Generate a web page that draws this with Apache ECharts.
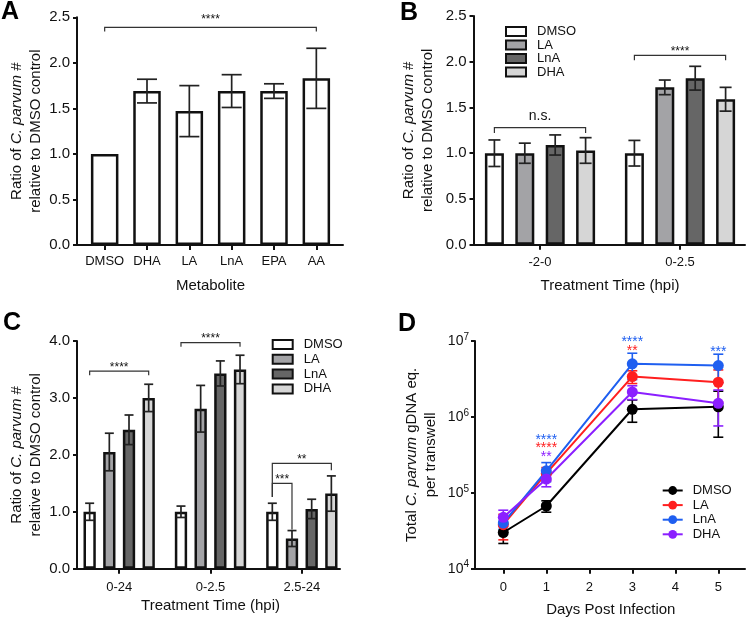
<!DOCTYPE html>
<html><head><meta charset="utf-8">
<script src="https://cdn.jsdelivr.net/npm/echarts/dist/echarts.min.js"></script>
<style>html,body{margin:0;padding:0;background:#fff}#c{width:750px;height:619px}</style>
</head><body><div id="c"></div>
<script>
// ---------- DATA ----------
const catsA = ['DMSO', 'DHA', 'LA', 'LnA', 'EPA', 'AA'];
const meanA = [1.0, 1.69, 1.47, 1.69, 1.69, 1.83];
const sdA   = [0, 0.13, 0.28, 0.18, 0.08, 0.33];
const bracketsA = [[0, 0, 5, 0, 2.39, 2.345, 2.345, '****']];

const groupNames = ['DMSO', 'LA', 'LnA', 'DHA'];

const catsB = ['-2-0', '0-2.5'];
const meanB = [[1.0, 1.0], [1.0, 1.72], [1.09, 1.82], [1.03, 1.59]];
const sdB   = [[0.145, 0.14], [0.11, 0.08], [0.11, 0.13], [0.14, 0.13]];
const bracketsB = [[0, 0, 0, 3, 1.28, 1.22, 1.22, 'n.s.'], [1, 0, 1, 3, 2.07, 2.015, 2.015, '****']];

const catsC = ['0-24', '0-2.5', '2.5-24'];
const meanC = [[1.0, 1.0, 1.0], [2.05, 2.81, 0.53], [2.44, 3.43, 1.05], [3.0, 3.5, 1.32]];
const sdC   = [[0.15, 0.10, 0.15], [0.33, 0.41, 0.14], [0.26, 0.22, 0.17], [0.24, 0.25, 0.31]];
const bracketsC = [
  [0, 0, 0, 3, 3.47, 3.40, 3.40, '****'],
  [1, 0, 1, 3, 3.97, 3.90, 3.90, '****'],
  [2, 0, 2, 3, 1.85, 1.26, 1.73, '**'],
  [2, 0, 2, 1, 1.50, 1.26, 0.69, '***']
];

const daysD = [0, 1, 3, 5];
const meanD = [
  [3.0e4, 6.7e4, 1.26e6, 1.36e6],
  [3.8e4, 1.8e5, 3.4e6, 2.86e6],
  [4.0e4, 1.95e5, 5.0e6, 4.75e6],
  [4.75e4, 1.52e5, 2.13e6, 1.51e6]
];
const sdD = [
  [0.85e4, 1.15e4, 0.41e6, 0.82e6],
  [1.4e4, 0.35e5, 0.65e6, 1.3e6],
  [0.7e4, 0.55e5, 1.9e6, 1.95e6],
  [1.15e4, 0.32e5, 0.44e6, 0.75e6]
];
// [day, value at star centre, text, series index]
const starsD = [
  [1, 5.5e5, '****', 2], [1, 4.26e5, '****', 1], [1, 3.25e5, '**', 3],
  [3, 1.09e7, '****', 2], [3, 8.26e6, '**', 1],
  [5, 8.0e6, '***', 2]
];

// ---------- STYLE ----------
const FONT = '"Liberation Sans", Arial, Helvetica, sans-serif';
const TXT = '#111';
const barFills = ['#ffffff', '#a3a3a6', '#666666', '#d6d6d6'];
const lineColors = ['#000000', '#ff1f1f', '#1f5ff0', '#8b1fff'];

function barOffset(i, n, w, gap) {
  const total = n * w + (n - 1) * gap * w;
  return -total / 2 + i * w * (1 + gap) + w / 2;
}

const chart = echarts.init(document.getElementById('c'), null, {renderer: 'canvas'});

const grids = [
  {left: 77, top: 17.3, width: 266, height: 227.7},     // 0 frame A
  {left: 83.5, top: 17.3, width: 254, height: 227.7},   // 1 data A
  {left: 473.5, top: 16, width: 271.5, height: 228.7},  // 2 frame B
  {left: 470, top: 16, width: 285, height: 228.7},      // 3 data B
  {left: 77, top: 341, width: 263, height: 227.7},      // 4 frame C
  {left: 73.5, top: 341, width: 274, height: 227.7},    // 5 data C
  {left: 475, top: 341, width: 270, height: 227.7},     // 6 frame D
  {left: 503.3, top: 341, width: 215, height: 227.7}    // 7 data D
];

const axLine = {show: true, onZero: false, lineStyle: {color: TXT, width: 2}};
const tick = {show: true, length: 4, lineStyle: {color: TXT, width: 2}};
const xlab = {color: TXT, fontFamily: FONT, fontSize: 13};
const ylab = {color: TXT, fontFamily: FONT, fontSize: 15};
const yName1 = '{n|Ratio of }{i|C. parvum}{n| #}\n{n|relative to DMSO control}';
const nameStyle = {
  fontFamily: FONT, fontSize: 15, color: TXT, lineHeight: 19,
  rich: {n: {fontFamily: FONT, fontSize: 15, color: TXT, lineHeight: 19},
         i: {fontFamily: FONT, fontSize: 15, color: TXT, fontStyle: 'italic', lineHeight: 19}}
};
const xNameStyle = {fontFamily: FONT, fontSize: 15, color: TXT};

function frameX(g) {
  return {type: 'value', gridIndex: g, min: 0, max: 1, axisLine: axLine, axisTick: {show: false},
          axisLabel: {show: false}, splitLine: {show: false}};
}
function frameY(g, min, max, interval, name, gap) {
  return {type: 'value', gridIndex: g, min, max, interval, axisLine: axLine, axisTick: tick,
          axisLabel: Object.assign({margin: 7, formatter: v => v.toFixed(1)}, ylab),
          splitLine: {show: false}, name, nameLocation: 'middle', nameRotate: 90, nameGap: gap,
          nameTextStyle: nameStyle};
}
function dataX(g, cats, name, gap, margin) {
  return {type: 'category', gridIndex: g, data: cats, boundaryGap: true,
          axisLine: {show: false, onZero: false},
          axisTick: Object.assign({alignWithLabel: true, interval: 0}, tick, {length: 5}),
          axisLabel: Object.assign({margin, interval: 0}, xlab), splitLine: {show: false},
          name, nameLocation: 'middle', nameGap: gap, nameTextStyle: xNameStyle};
}
function dataY(g, min, max) {
  return {type: 'value', gridIndex: g, min, max, show: false, splitLine: {show: false}};
}

const xAxes = [
  frameX(0), dataX(1, catsA, 'Metabolite', 33, 10),
  frameX(2), dataX(3, catsB, 'Treatment Time (hpi)', 34, 11),
  frameX(4), dataX(5, catsC, 'Treatment Time (hpi)', 30, 12),
  frameX(6),
  {type: 'value', gridIndex: 7, min: 0, max: 5, interval: 1, axisLine: {show: false, onZero: false},
   axisTick: Object.assign({}, tick, {length: 5}), axisLabel: Object.assign({margin: 12}, xlab), splitLine: {show: false},
   name: 'Days Post Infection', nameLocation: 'middle', nameGap: 34, nameTextStyle: xNameStyle}
];
const yAxes = [
  frameY(0, 0, 2.5, 0.5, yName1, 31), dataY(1, 0, 2.5),
  frameY(2, 0, 2.5, 0.5, yName1, 36), dataY(3, 0, 2.5),
  frameY(4, 0, 4, 1, yName1, 31), dataY(5, 0, 4),
  {type: 'log', gridIndex: 6, min: 1e4, max: 1e7, logBase: 10, axisLine: axLine, axisTick: tick,
   splitLine: {show: false}, minorTick: {show: false},
   axisLabel: {margin: 6, formatter: v => '{b|10}{s|' + Math.round(Math.log10(v)) + '}',
     rich: {b: {fontFamily: FONT, fontSize: 14, color: TXT},
            s: {fontFamily: FONT, fontSize: 10, color: TXT, verticalAlign: 'top', padding: [0, 0, 8, 0]}}},
   name: '{n|Total }{i|C. parvum}{n| gDNA eq.}\n{n|per transwell}', nameLocation: 'middle', nameRotate: 90,
   nameGap: 35, nameTextStyle: nameStyle},
  {type: 'log', gridIndex: 7, min: 1e4, max: 1e7, logBase: 10, show: false, splitLine: {show: false}}
];

const series = [];

function addBars(axisIdx, prefix, names, means, w, gap) {
  means.forEach((arr, s) => {
    series.push({
      type: 'bar', name: prefix + names[s], xAxisIndex: axisIdx, yAxisIndex: axisIdx,
      data: arr, barWidth: w, barGap: (gap * 100) + '%', z: 2, silent: true,
      itemStyle: {color: barFills[s], borderColor: TXT, borderWidth: 2.5}
    });
  });
}
function addErrors(axisIdx, means, sds, w, gap, cap) {
  const n = means.length;
  const data = [];
  means.forEach((arr, s) => arr.forEach((m, c) => data.push([c, s, m, sds[s][c]])));
  series.push({
    type: 'custom', xAxisIndex: axisIdx, yAxisIndex: axisIdx, z: 5, silent: true,
    encode: {x: 0, y: 2}, data,
    renderItem(params, api) {
      const c = api.value(0), s = api.value(1), m = api.value(2), sd = api.value(3);
      if (!sd) return null;
      const off = barOffset(s, n, w, gap);
      const p1 = api.coord([c, m + sd]), p2 = api.coord([c, m - sd]);
      const x = p1[0] + off;
      const st = {stroke: '#222', lineWidth: 1.7};
      return {type: 'group', children: [
        {type: 'line', shape: {x1: x, y1: p1[1], x2: x, y2: p2[1]}, style: st},
        {type: 'line', shape: {x1: x - cap / 2, y1: p1[1], x2: x + cap / 2, y2: p1[1]}, style: st},
        {type: 'line', shape: {x1: x - cap / 2, y1: p2[1], x2: x + cap / 2, y2: p2[1]}, style: st}
      ]};
    }
  });
}
function addBrackets(axisIdx, list, n, w, gap, starOff) {
  series.push({
    type: 'custom', xAxisIndex: axisIdx, yAxisIndex: axisIdx, z: 6, silent: true,
    encode: {x: 0, y: 1}, data: list.map((b, i) => [b[0], b[4], i]),
    renderItem(params, api) {
      const b = list[params.dataIndex];
      const xa = api.coord([b[0], b[4]])[0] + barOffset(b[1], n, w, gap);
      const xb = api.coord([b[2], b[4]])[0] + barOffset(b[3], n, w, gap);
      const yT = api.coord([b[0], b[4]])[1];
      const yL = api.coord([b[0], b[5]])[1];
      const yR = api.coord([b[0], b[6]])[1];
      const isNs = b[7] === 'n.s.';
      const off = isNs ? 11 : starOff;
      return {type: 'group', children: [
        {type: 'polyline', shape: {points: [[xa, yL], [xa, yT], [xb, yT], [xb, yR]]},
         style: {stroke: '#333', lineWidth: 1.2, fill: null}},
        {type: 'text', x: (xa + xb) / 2, y: yT - off,
         style: {text: b[7], fontFamily: FONT, fontSize: isNs ? 14 : 12, fill: TXT, align: 'center', verticalAlign: 'middle'}}
      ]};
    }
  });
}

// Panel A
addBars(1, '', ['A'], [meanA], 27.5, 0.6);
addErrors(1, [meanA], [sdA], 27.5, 0.6, 20);
addBrackets(1, bracketsA, 1, 27.5, 0.6, 7.7);
// Panel B
addBars(3, 'B_', groupNames, meanB, 19, 0.6);
addErrors(3, meanB, sdB, 19, 0.6, 12);
addBrackets(3, bracketsB, 4, 19, 0.6, 3.5);
// Panel C
addBars(5, 'C_', groupNames, meanC, 12.3, 0.6);
addErrors(5, meanC, sdC, 12.3, 0.6, 9);
addBrackets(5, bracketsC, 4, 12.3, 0.6, 3.7);

// Panel D
const errD = [];
meanD.forEach((arr, s) => arr.forEach((m, i) => errD.push([daysD[i], m, sdD[s][i], s])));
series.push({
  type: 'custom', xAxisIndex: 7, yAxisIndex: 7, z: 1, silent: true, encode: {x: 0, y: 1}, data: errD,
  renderItem(params, api) {
    const d = api.value(0), m = api.value(1), sd = api.value(2), s = api.value(3);
    const p1 = api.coord([d, m + sd]), p2 = api.coord([d, m - sd]);
    const x = p1[0], cap = 10;
    const st = {stroke: lineColors[s], lineWidth: 1.6};
    return {type: 'group', children: [
      {type: 'line', shape: {x1: x, y1: p1[1], x2: x, y2: p2[1]}, style: st},
      {type: 'line', shape: {x1: x - cap / 2, y1: p1[1], x2: x + cap / 2, y2: p1[1]}, style: st},
      {type: 'line', shape: {x1: x - cap / 2, y1: p2[1], x2: x + cap / 2, y2: p2[1]}, style: st}
    ]};
  }
});
meanD.forEach((arr, s) => {
  series.push({
    type: 'line', name: 'D_' + groupNames[s], xAxisIndex: 7, yAxisIndex: 7, z: 3, clip: false,
    data: arr.map((v, i) => [daysD[i], v]), symbol: 'circle', symbolSize: 11, showSymbol: true,
    lineStyle: {color: lineColors[s], width: 2}, itemStyle: {color: lineColors[s]}, silent: true
  });
});
series.push({
  type: 'custom', xAxisIndex: 7, yAxisIndex: 7, z: 6, silent: true, encode: {x: 0, y: 1},
  data: starsD.map((t, i) => [t[0], t[1], i]),
  renderItem(params, api) {
    const t = starsD[params.dataIndex];
    const p = api.coord([t[0], t[1]]);
    return {type: 'text', x: p[0], y: p[1] + 3.5,
      style: {text: t[2], fontFamily: FONT, fontSize: 14, fill: lineColors[t[3]], align: 'center', verticalAlign: 'middle'}};
  }
});

const legendCommon = {
  orient: 'vertical', selectedMode: false, icon: 'rect', itemWidth: 20, itemHeight: 9, itemGap: 0.5,
  formatter: n => n.replace(/^[A-Z]_/, ''),
  textStyle: {fontFamily: FONT, fontSize: 13, color: TXT, padding: [0, 0, 0, 6]}
};

const option = {
  animation: false,
  backgroundColor: '#fff',
  grid: grids,
  xAxis: xAxes,
  yAxis: yAxes,
  legend: [
    Object.assign({}, legendCommon, {left: 500, top: 20, data: groupNames.map(n => 'B_' + n)}),
    Object.assign({}, legendCommon, {left: 266.7, top: 333, itemGap: 1.8, data: groupNames.map(n => 'C_' + n)}),
    Object.assign({}, legendCommon, {left: 656.7, top: 479, icon: null, itemHeight: 11, itemGap: 1.6,
      textStyle: {fontFamily: FONT, fontSize: 13, color: TXT, padding: [0, 0, 0, 5]},
      data: groupNames.map(n => 'D_' + n)})
  ],
  graphic: [
    {type: 'text', x: 10, y: 12, style: {text: 'A', fontFamily: FONT, fontSize: 25, fontWeight: 'bold', fill: '#000', align: 'center', verticalAlign: 'middle'}},
    {type: 'text', x: 409, y: 13, style: {text: 'B', fontFamily: FONT, fontSize: 25, fontWeight: 'bold', fill: '#000', align: 'center', verticalAlign: 'middle'}},
    {type: 'text', x: 12, y: 323, style: {text: 'C', fontFamily: FONT, fontSize: 25, fontWeight: 'bold', fill: '#000', align: 'center', verticalAlign: 'middle'}},
    {type: 'text', x: 407, y: 324, style: {text: 'D', fontFamily: FONT, fontSize: 25, fontWeight: 'bold', fill: '#000', align: 'center', verticalAlign: 'middle'}}
  ],
  series
};
chart.setOption(option);
</script>
</body></html>
